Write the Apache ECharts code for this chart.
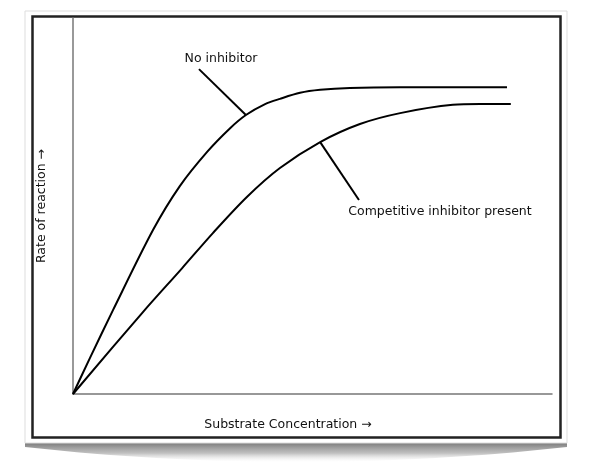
<!DOCTYPE html>
<html>
<head>
<meta charset="utf-8">
<script src="https://cdn.jsdelivr.net/npm/echarts@6/dist/echarts.min.js"></script>
<style>html,body{margin:0;padding:0;background:#fff}#c{width:591px;height:472px}</style>
</head>
<body>
<div id="c"></div>
<script>
// Substrate concentration (relative units) and rate of reaction (relative units)
var noInhibitorX = [0, 3.55, 8.35, 16.7, 22.3, 28.0, 32.8, 36.1, 40.1, 43.2, 47.4, 51.6, 57.8, 68.3, 90.6];
var noInhibitorY = [0, 9.6, 22.3, 43.6, 55.3, 64.4, 70.7, 74.2, 77.1, 78.5, 80.1, 80.9, 81.4, 81.6, 81.6];
var competitiveX = [0, 14.6, 22.8, 29.2, 36.3, 43.2, 51.6, 59.9, 68.3, 79.3, 85.0, 91.4];
var competitiveY = [0, 21.8, 33.5, 42.8, 52.4, 60.1, 67.0, 71.8, 74.7, 76.9, 77.1, 77.1];
var seriesNames = ['No inhibitor', 'Competitive inhibitor present'];
var xAxisTitle = 'Substrate Concentration \u2192';
var yAxisTitle = 'Rate of reaction \u2192';
// leader lines: [curve-end point, label-end point]
var noInhibitorLeader = [[36.1, 74.2], [26.3, 86.4]];
var competitiveLeader = [[51.6, 67.0], [59.7, 51.6]];

function pairs(xs, ys) { return xs.map(function (x, i) { return [x, ys[i]]; }); }

// decorative drop shadow under the frame (curved bottom edge)
var shadowPts = [[25, 440], [567, 440], [567, 447]];
for (var i = 1; i < 20; i++) {
  var t = i / 20;
  shadowPts.push([567 - t * 542, 447 + 4 * t * (1 - t) * 15]);
}
shadowPts.push([25, 447]);

var FONT = 'DejaVu Sans';
var TXT = '12.5px "DejaVu Sans"';
var chart = echarts.init(document.getElementById('c'));
chart.setOption({
  animation: false,
  backgroundColor: '#fff',
  grid: { left: 73, top: 18, right: 39, bottom: 78 },
  xAxis: {
    type: 'value', min: 0, max: 100,
    axisLine: { lineStyle: { color: '#777', width: 1.5 } },
    axisTick: { show: false }, axisLabel: { show: false }, splitLine: { show: false }
  },
  yAxis: {
    type: 'value', min: 0, max: 100,
    name: yAxisTitle, nameLocation: 'middle', nameGap: 25, nameRotate: 90,
    nameTextStyle: { fontFamily: FONT, fontSize: 12.5, color: '#111' },
    axisLine: { show: true, lineStyle: { color: '#777', width: 1.5 } },
    axisTick: { show: false }, axisLabel: { show: false }, splitLine: { show: false }
  },
  graphic: [
    { type: 'polygon', z: -3, shape: { points: shadowPts },
      style: { fill: { type: 'linear', x: 0, y: 0, x2: 0, y2: 1, colorStops: [
        { offset: 0, color: 'rgba(90,90,90,0.95)' },
        { offset: 0.6, color: 'rgba(150,150,150,0.6)' },
        { offset: 1, color: 'rgba(230,230,230,0)' }] } } },
    { type: 'rect', z: -2, shape: { x: 25, y: 11, width: 542, height: 432 },
      style: { fill: '#fff', stroke: '#ddd', lineWidth: 1 } },
    { type: 'rect', z: -1, shape: { x: 32.5, y: 16.5, width: 528, height: 421 },
      style: { fill: 'none', stroke: '#222', lineWidth: 2.5 } },
    { type: 'text', x: 288, y: 425, style: { text: xAxisTitle, textAlign: 'center', textVerticalAlign: 'middle',
      font: TXT, fill: '#111' } },
    { type: 'text', x: 221, y: 59, style: { text: seriesNames[0], textAlign: 'center', textVerticalAlign: 'middle',
      font: TXT, fill: '#111' } },
    { type: 'text', x: 440, y: 212, style: { text: seriesNames[1], textAlign: 'center', textVerticalAlign: 'middle',
      font: TXT, fill: '#111' } }
  ],
  series: [
    {
      name: seriesNames[0], type: 'line', data: pairs(noInhibitorX, noInhibitorY),
      smooth: 0.3, showSymbol: false, lineStyle: { color: '#000', width: 2 },
      markLine: { silent: true, symbol: 'none', label: { show: false },
        lineStyle: { color: '#000', width: 2, type: 'solid' },
        data: [[{ coord: noInhibitorLeader[0] }, { coord: noInhibitorLeader[1] }]] }
    },
    {
      name: seriesNames[1], type: 'line', data: pairs(competitiveX, competitiveY),
      smooth: 0.3, showSymbol: false, lineStyle: { color: '#000', width: 2 },
      markLine: { silent: true, symbol: 'none', label: { show: false },
        lineStyle: { color: '#000', width: 2, type: 'solid' },
        data: [[{ coord: competitiveLeader[0] }, { coord: competitiveLeader[1] }]] }
    }
  ]
});
</script>
</body>
</html>
